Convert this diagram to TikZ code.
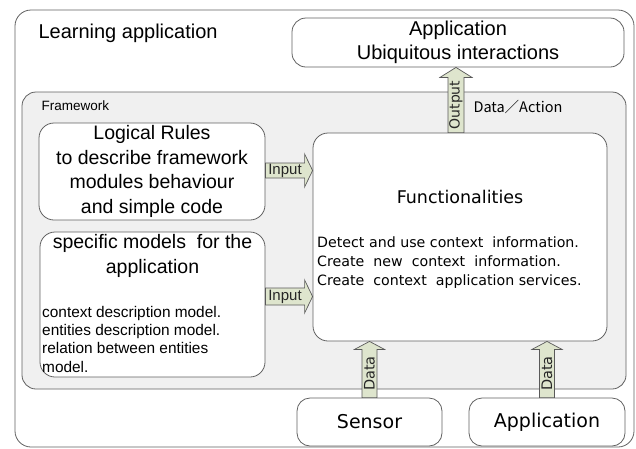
\documentclass[tikz,border=0pt]{standalone}
\usepackage{fontspec}
\setmainfont{Liberation Sans}
\newfontfamily\gothic{DejaVu Sans}
\newfontfamily\cjk{Noto Sans CJK JP}
\usetikzlibrary{calc}
\definecolor{flowgreen}{RGB}{222,229,205}
\definecolor{framegray}{RGB}{240,240,240}
\newcommand{\fsz}[2]{\fontsize{#1pt}{#2pt}\selectfont}
% block arrows: tail, tip, half shaft, half head, head length, label
\newcommand{\rflow}[6]{%
  \draw[flow] ($(#1)+(0,#3)$) -- ($(#2|-#1)+(-#5,#3)$) -- ($(#2|-#1)+(-#5,#4)$) -- (#2|-#1)
    -- ($(#2|-#1)+(-#5,-#4)$) -- ($(#2|-#1)+(-#5,-#3)$) -- ($(#1)+(0,-#3)$) -- cycle;
  \node[flowtext] at ($(#1)!0.5!(#2|-#1)+(-#5/2,0)$) {#6};}
\newcommand{\uflow}[6]{%
  \draw[flow] ($(#1)+(#3,0)$) -- ($(#1|-#2)+(#3,#5)$) -- ($(#1|-#2)+(#4,#5)$) -- (#1|-#2)
    -- ($(#1|-#2)+(-#4,#5)$) -- ($(#1|-#2)+(-#3,#5)$) -- ($(#1)+(-#3,0)$) -- cycle;
  \node[flowtext, rotate=90] at ($(#1)!0.5!(#1|-#2)+(0,#5/2)$) {#6};}

\begin{document}
\begin{tikzpicture}[x=1pt,y=-1pt,
  box/.style={draw=black!62, line width=0.8pt, fill=white, rounded corners=14pt, inner sep=0pt},
  flow/.style={draw=black!65, line width=0.7pt, fill=flowgreen},
  flowtext/.style={inner sep=0pt, text=black!85}]
\useasboundingbox (0,0) rectangle (636,448);

\node[box, rounded corners=16pt, minimum width=619, minimum height=437] (learn) at (324.5,228.5) {};
\node[anchor=base west, font=\fsz{20}{24}] (learnlabel) at (35,38) {Learning application};
\node[box, minimum width=332, minimum height=49, align=center, font=\fsz{20}{24}] (app) at (458,42.5)
  {Application\\Ubiquitous interactions};

\node[box, fill=framegray, minimum width=604, minimum height=297] (frame) at (324,240.5) {};
\node[anchor=west, font=\fsz{13.5}{16}] (framelabel) at (38,106) {Framework};
\node[anchor=west, font=\cjk\fsz{14.5}{17}] (datalabel) at (470,107) {Data／Action};

\node[box, rounded corners=15pt, minimum width=226, minimum height=97, align=center, font=\fsz{19.5}{24.5}] (logic) at (152,171.5)
  {Logical Rules\\to describe framework\\modules behaviour\\and simple code};
\node[box, rounded corners=15pt, minimum width=225, minimum height=145] (spec) at (152.5,304.5) {};
\node[align=center, font=\fsz{19.5}{25}] (spectitle) at (152.5,256) {specific models\ \ for the\\application};
\node[anchor=north west, inner sep=0pt, align=left, font=\fsz{15.4}{18.3}] (speclist) at (42,306)
  {context description model.\\entities description model.\\relation between entities\\model.};

\node[box, rounded corners=15pt, minimum width=294, minimum height=208] (func) at (460,237) {};
\node[font=\gothic\fsz{17.5}{22}] (functitle) at (460,197) {Functionalities};
\node[anchor=north west, inner sep=0pt, align=left, font=\gothic\fsz{14.2}{19}] (funclist) at (317,237)
  {Detect and use context\ \ information.\\Create\ \ new\ \ context\ \ information.\\Create\ \ context\ \ application services.};

\node[box, rounded corners=13pt, minimum width=145, minimum height=48, font=\gothic\fsz{19}{22}] (sens) at (369.5,422) {Sensor};
\node[box, rounded corners=13pt, minimum width=156, minimum height=48, font=\gothic\fsz{19}{22}] (apps) at (547,422) {Application};

\coordinate (in1) at ([yshift=1pt]logic.east);
\coordinate (in2) at ([yshift=8pt]spec.east);
\coordinate (out) at ([xshift=-4pt]func.north);
\rflow{in1}{func.west}{7.5}{16.5}{8}{\fsz{15}{17}Input}
\rflow{in2}{func.west}{8.5}{16.5}{8}{\fsz{15}{17}Input}
\uflow{out}{app.south}{8}{16}{10}{\gothic\fsz{14}{16}Output}
\uflow{sens.north}{func.south}{7.5}{15}{8}{\gothic\fsz{14.5}{16}Data}
\uflow{apps.north}{func.south}{7.5}{15}{8}{\gothic\fsz{14.5}{16}Data}
\end{tikzpicture}
\end{document}
